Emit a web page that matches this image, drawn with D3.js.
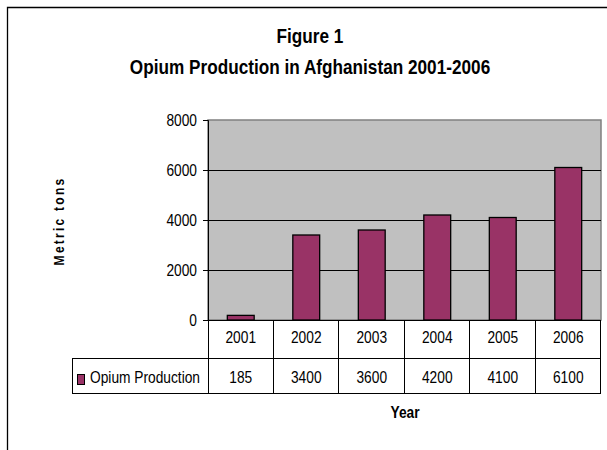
<!DOCTYPE html>
<html>
<head>
<meta charset="utf-8">
<script src="https://cdn.jsdelivr.net/npm/d3@7"></script>
<style>
  body { margin: 0; background: #fff; }
  text { font-family: "Liberation Sans", Arial, sans-serif; fill: #000; }
</style>
</head>
<body>
<div id="canvas"></div>
<script>
const years = ["2001", "2002", "2003", "2004", "2005", "2006"];
const production = [185, 3400, 3600, 4200, 4100, 6100];
const yTicks = [0, 2000, 4000, 6000, 8000];
const seriesName = "Opium Production";

const width = 607, height = 450;
const margin = { top: 120, left: 208, right: 6, bottom: 130 };
const iwidth = width - margin.left - margin.right;
const iheight = height - margin.top - margin.bottom;
const sx = 0.86; // squeeze to mimic a narrow face

const svg = d3.select("#canvas").append("svg")
  .attr("width", width).attr("height", height);

// put a narrow text at (x, y)
function ntext(sel, x, y, str, size, bold, anchor) {
  return sel.append("text")
    .attr("transform", `translate(${x},${y}) scale(${sx},1)`)
    .attr("text-anchor", anchor || "middle")
    .attr("font-size", size)
    .attr("font-weight", bold ? "bold" : null)
    .text(str);
}

// outer frame (cropped at right/bottom)
svg.append("path").attr("d", `M7.5,${height} V7.5 H${width}`)
  .attr("fill", "none").attr("stroke", "#000").attr("stroke-width", 1.3);

// titles
ntext(svg, 310, 43, "Figure 1", 20, true);
ntext(svg, 310, 74, "Opium Production in Afghanistan 2001-2006", 20, true);

const g = svg.append("g").attr("transform", `translate(${margin.left},${margin.top})`);

const x = d3.scaleBand().domain(years).range([0, iwidth]).paddingInner(0.59).paddingOuter(0.295);
const xc = d3.scaleBand().domain(years).range([0, iwidth]);
const y = d3.scaleLinear().domain([0, 8000]).range([iheight, 0]);

g.append("rect").attr("width", iwidth).attr("height", iheight)
  .attr("fill", "#c0c0c0").attr("stroke", "#808080").attr("stroke-width", 1.5);

g.append("g").selectAll("line").data(yTicks.filter(d => d > 0 && d < 8000)).join("line")
  .attr("x1", 0).attr("x2", iwidth)
  .attr("y1", d => Math.round(y(d)) + 0.5).attr("y2", d => Math.round(y(d)) + 0.5)
  .attr("stroke", "#000");

g.selectAll("rect.bar").data(production).join("rect")
  .attr("class", "bar")
  .attr("x", (d, i) => x(years[i]))
  .attr("y", d => y(d))
  .attr("width", x.bandwidth())
  .attr("height", d => iheight - y(d))
  .attr("fill", "#993366").attr("stroke", "#000").attr("stroke-width", 1.3);

const yAxis = g.append("g").call(d3.axisLeft(y).tickValues(yTicks).tickSize(5).tickPadding(6).tickFormat(d3.format("d")));
yAxis.attr("font-family", null).attr("font-size", null);
yAxis.select(".domain").attr("stroke", "#000");
yAxis.selectAll(".tick line").attr("stroke", "#000");
yAxis.selectAll(".tick text").attr("font-size", 16)
  .attr("x", -11 / sx).attr("dy", "0.36em")
  .attr("transform", `scale(${sx},1)`);

svg.append("text").attr("transform", `translate(64,${margin.top + iheight / 2 + 1}) rotate(-90) scale(${sx},1)`)
  .attr("text-anchor", "middle").attr("font-size", 14).attr("font-weight", "bold")
  .attr("letter-spacing", 2.6).text("Metric tons");

// data table
const row1 = 38, row2 = 35;
const t = g.append("g").attr("transform", `translate(0,${iheight})`);
const legendLeft = 72 - margin.left;
t.append("line").attr("x1", 0).attr("x2", iwidth).attr("y1", 0.5).attr("y2", 0.5).attr("stroke", "#000");
t.append("line").attr("x1", legendLeft).attr("x2", iwidth).attr("y1", row1 + 0.5).attr("y2", row1 + 0.5).attr("stroke", "#000");
t.append("line").attr("x1", legendLeft).attr("x2", iwidth).attr("y1", row1 + row2 + 0.5).attr("y2", row1 + row2 + 0.5).attr("stroke", "#000");
t.append("line").attr("x1", legendLeft + 0.5).attr("x2", legendLeft + 0.5).attr("y1", row1).attr("y2", row1 + row2).attr("stroke", "#000");
t.append("line").attr("x1", 0.5).attr("x2", 0.5).attr("y1", 0).attr("y2", row1 + row2).attr("stroke", "#000");
t.selectAll("line.col").data(years).join("line").attr("class", "col")
  .attr("x1", d => Math.round(xc(d) + xc.bandwidth()) - 0.5)
  .attr("x2", d => Math.round(xc(d) + xc.bandwidth()) - 0.5)
  .attr("y1", 0).attr("y2", row1 + row2).attr("stroke", "#000");

years.forEach(d => ntext(t, xc(d) + xc.bandwidth() / 2, 23, d, 16));
production.forEach((d, i) => ntext(t, xc(years[i]) + xc.bandwidth() / 2, 63, d, 16));

t.append("rect").attr("x", legendLeft + 5.5).attr("y", row1 + 16.5).attr("width", 7).attr("height", 10)
  .attr("fill", "#993366").attr("stroke", "#000");
ntext(t, legendLeft + 18, 63, seriesName, 16, false, "start");

ntext(svg, 405, 418, "Year", 16, true);
</script>
</body>
</html>
